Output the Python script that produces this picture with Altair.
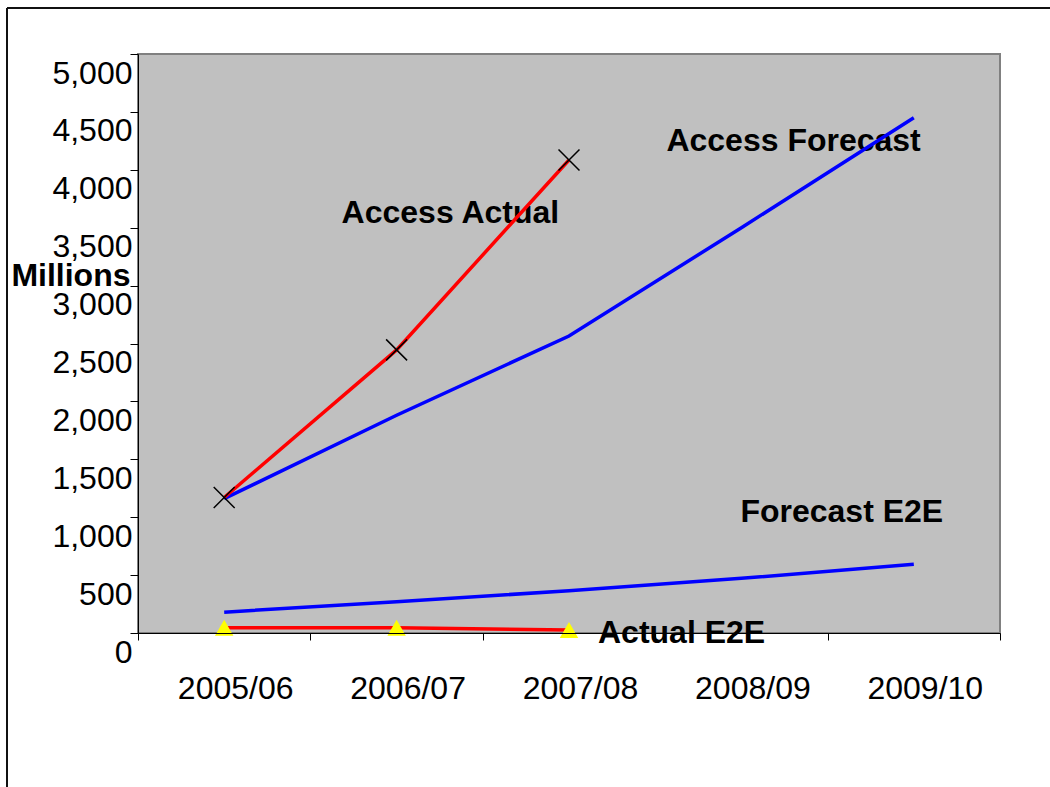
import altair as alt
import pandas as pd

years = ["2005/06", "2006/07", "2007/08", "2008/09", "2009/10"]
access_forecast = [1160, 1880, 2565, 3500, 4450]
access_actual = [1170, 2445, 4085]
forecast_e2e = [180, 270, 365, 472, 593]
actual_e2e = [45, 45, 25]
y_ticks = list(range(0, 5001, 500))

label_texts = ["Access Actual", "Access Forecast", "Forecast E2E", "Actual E2E"]
label_years = ["2006/07", "2008/09", "2008/09", "2007/08"]
label_values = [3543, 4165, 958, 0]
label_dx = [-55, -75, -1, 29]
label_dy = [0, 0, 0, 10]

FONT = "Liberation Sans"
FS = 32

df_af = pd.DataFrame({"year": years, "value": access_forecast})
df_aa = pd.DataFrame({"year": years[:3], "value": access_actual})
df_fe = pd.DataFrame({"year": years, "value": forecast_e2e})
df_ae = pd.DataFrame({"year": years[:3], "value": actual_e2e})

x_enc = alt.X(
    "year:N",
    sort=years,
    scale=alt.Scale(type="band", domain=years, paddingInner=0, paddingOuter=0),
    axis=alt.Axis(
        title=None, labelAngle=0, tickBand="extent", labelFontSize=FS,
        labelFont=FONT, labelColor="black", tickColor="black", tickSize=7,
        domainColor="black", domainWidth=1, tickWidth=1, labelPadding=33,
        labelOffset=11, zindex=1,
    ),
)
y_enc = alt.Y(
    "value:Q",
    scale=alt.Scale(domain=[0, 5000], nice=False, zero=True),
    axis=alt.Axis(
        values=y_ticks, format=",.0f", title="Millions", titleAngle=0,
        titleAlign="right", titleBaseline="middle", titleX=-8, titleY=221,
        titleFontSize=FS, titleFontWeight="bold", titleFont=FONT, titleColor="black",
        labelFontSize=FS, labelFont=FONT, labelColor="black", labelOffset=19,
        tickSize=8, labelPadding=-2, domainColor="black", tickColor="black",
        domainWidth=1, tickWidth=1, grid=False, zindex=1, labelFlush=False,
    ),
)

layers = []

# annotation texts
for t, yr, v, dx, dy in zip(label_texts, label_years, label_values, label_dx, label_dy):
    d = pd.DataFrame({"year": [yr], "value": [v]})
    layers.append(
        alt.Chart(d).mark_text(
            text=t, align="left", baseline="alphabetic", dx=dx, dy=dy,
            fontSize=FS, fontWeight="bold", font=FONT, color="black",
        ).encode(x=x_enc, y=y_enc)
    )

layers.append(alt.Chart(df_af).mark_line(color="#0000FF", strokeWidth=3.5).encode(x=x_enc, y=y_enc))
layers.append(alt.Chart(df_fe).mark_line(color="#0000FF", strokeWidth=3.5).encode(x=x_enc, y=y_enc))
layers.append(alt.Chart(df_aa).mark_line(color="#FF0000", strokeWidth=3.5).encode(x=x_enc, y=y_enc))
layers.append(alt.Chart(df_ae).mark_line(color="#FF0000", strokeWidth=3.5).encode(x=x_enc, y=y_enc))
layers.append(
    alt.Chart(df_aa).mark_point(
        shape="M-1,-1L1,1M-1,1L1,-1", size=440, filled=False, stroke="black",
        strokeWidth=1.5, opacity=1,
    ).encode(x=x_enc, y=y_enc)
)
layers.append(
    alt.Chart(df_ae).mark_point(
        shape="triangle-up", size=340, filled=True, color="#FFFF00", opacity=1,
    ).encode(x=x_enc, y=y_enc)
)

# outer frame (decorative)
frame_df = pd.DataFrame({"k": [0]})
layers.append(
    alt.Chart(frame_df).mark_rule(color="#111111", strokeWidth=2).encode(
        x=alt.value(-131), y=alt.value(-46), y2=alt.value(800)
    )
)
layers.append(
    alt.Chart(frame_df).mark_rule(color="#111111", strokeWidth=2).encode(
        x=alt.value(-131), x2=alt.value(1100), y=alt.value(-46)
    )
)

chart = alt.layer(*layers).properties(
    width=862,
    height=579,
    autosize=alt.AutoSizeParams(type="none"),
    padding={"left": 138, "top": 54, "right": 50, "bottom": 154},
    background="white",
).configure_view(
    fill="#C0C0C0", stroke="#808080", strokeWidth=2
)

chart.save("out.html", embed_options={"renderer": "svg", "actions": False})
